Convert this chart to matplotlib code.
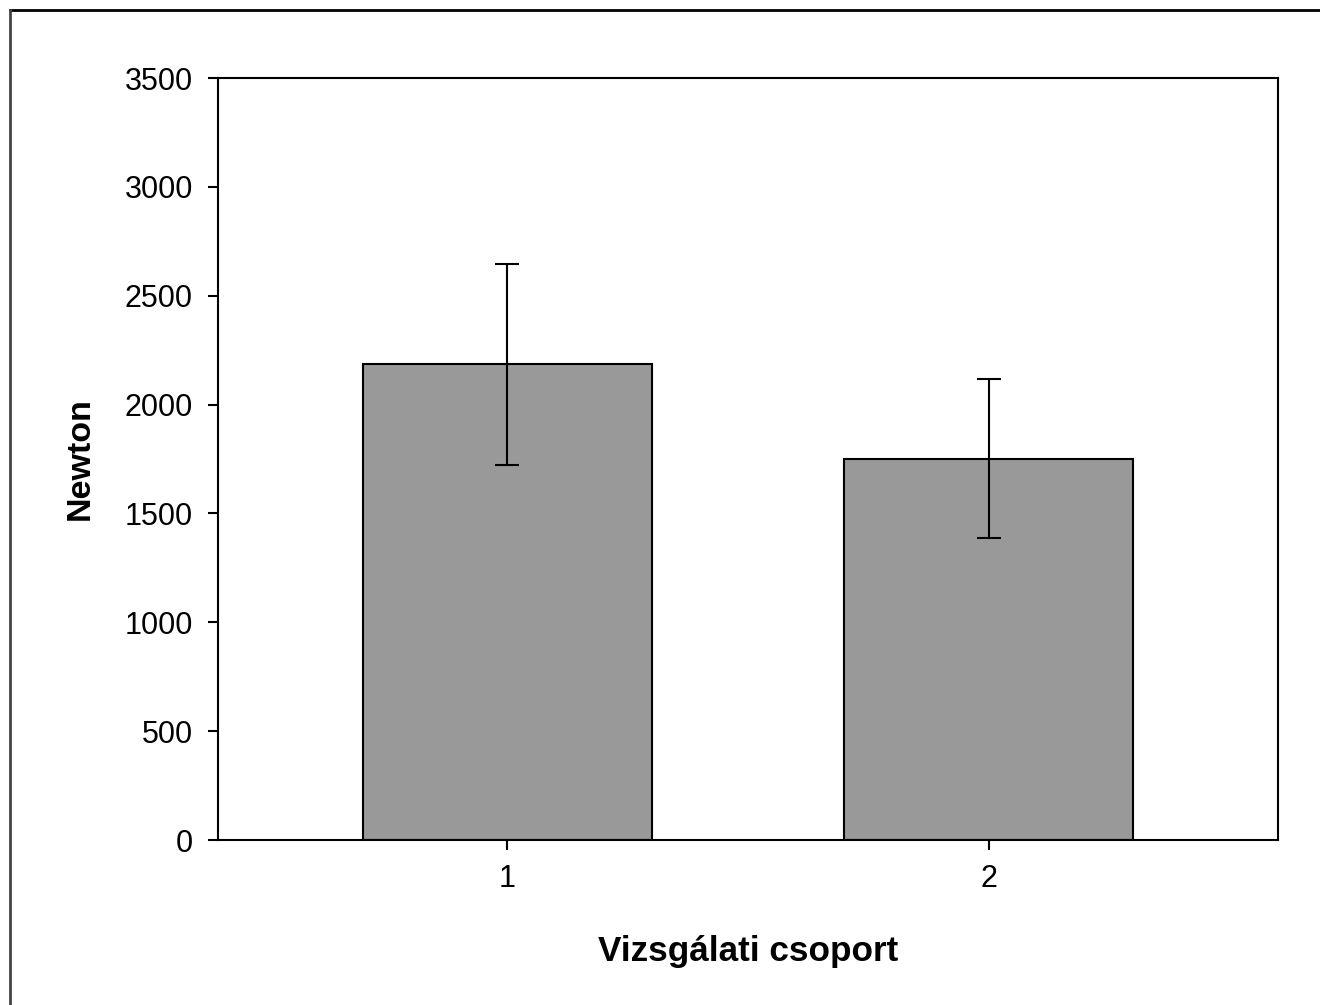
import matplotlib
matplotlib.use("Agg")
import matplotlib.pyplot as plt
from matplotlib.lines import Line2D

groups = ["1", "2"]
means = [2185, 1752]
errors = [462, 367]
yticks = [0, 500, 1000, 1500, 2000, 2500, 3000, 3500]

plt.rcParams['font.family'] = ['Liberation Sans', 'DejaVu Sans']

fig = plt.figure(figsize=(13.2, 10.05), dpi=100)
W, H = 1320, 1005
ax = fig.add_axes([218 / W, 1 - 840 / H, (1278 - 218) / W, (840 - 78) / H])

x = [1, 2]
ax.bar(x, means, width=0.6, color="#999999", edgecolor="black", linewidth=1.5, zorder=2)
ax.errorbar(x, means, yerr=errors, fmt="none", ecolor="black", elinewidth=1.5,
            capsize=8.6, capthick=1.5, zorder=3)

ax.set_xlim(0.4, 2.6)
ax.set_ylim(0, 3500)
ax.set_xticks(x)
ax.set_xticklabels(groups)
ax.set_yticks(yticks)
ax.set_yticklabels([str(v) for v in yticks])
ax.tick_params(axis="both", direction="out", length=7, width=1.5, labelsize=22)
ax.tick_params(axis="y", pad=11)
ax.tick_params(axis="x", pad=10)
for s in ax.spines.values():
    s.set_linewidth(1.5)

ax.set_xlabel("Vizsgálati csoport", fontsize=25.3, fontweight="bold", labelpad=30)
ax.set_ylabel("Newton", fontsize=24.5, fontweight="bold", labelpad=21)

# figure border (top and left only)
fig.add_artist(Line2D([10 / W, 1], [1 - 10 / H, 1 - 10 / H], color="black", linewidth=2, transform=fig.transFigure))
fig.add_artist(Line2D([10 / W, 10 / W], [0, 1 - 10 / H], color="#444444", linewidth=2, transform=fig.transFigure))

fig.savefig("out.png", dpi=100)
